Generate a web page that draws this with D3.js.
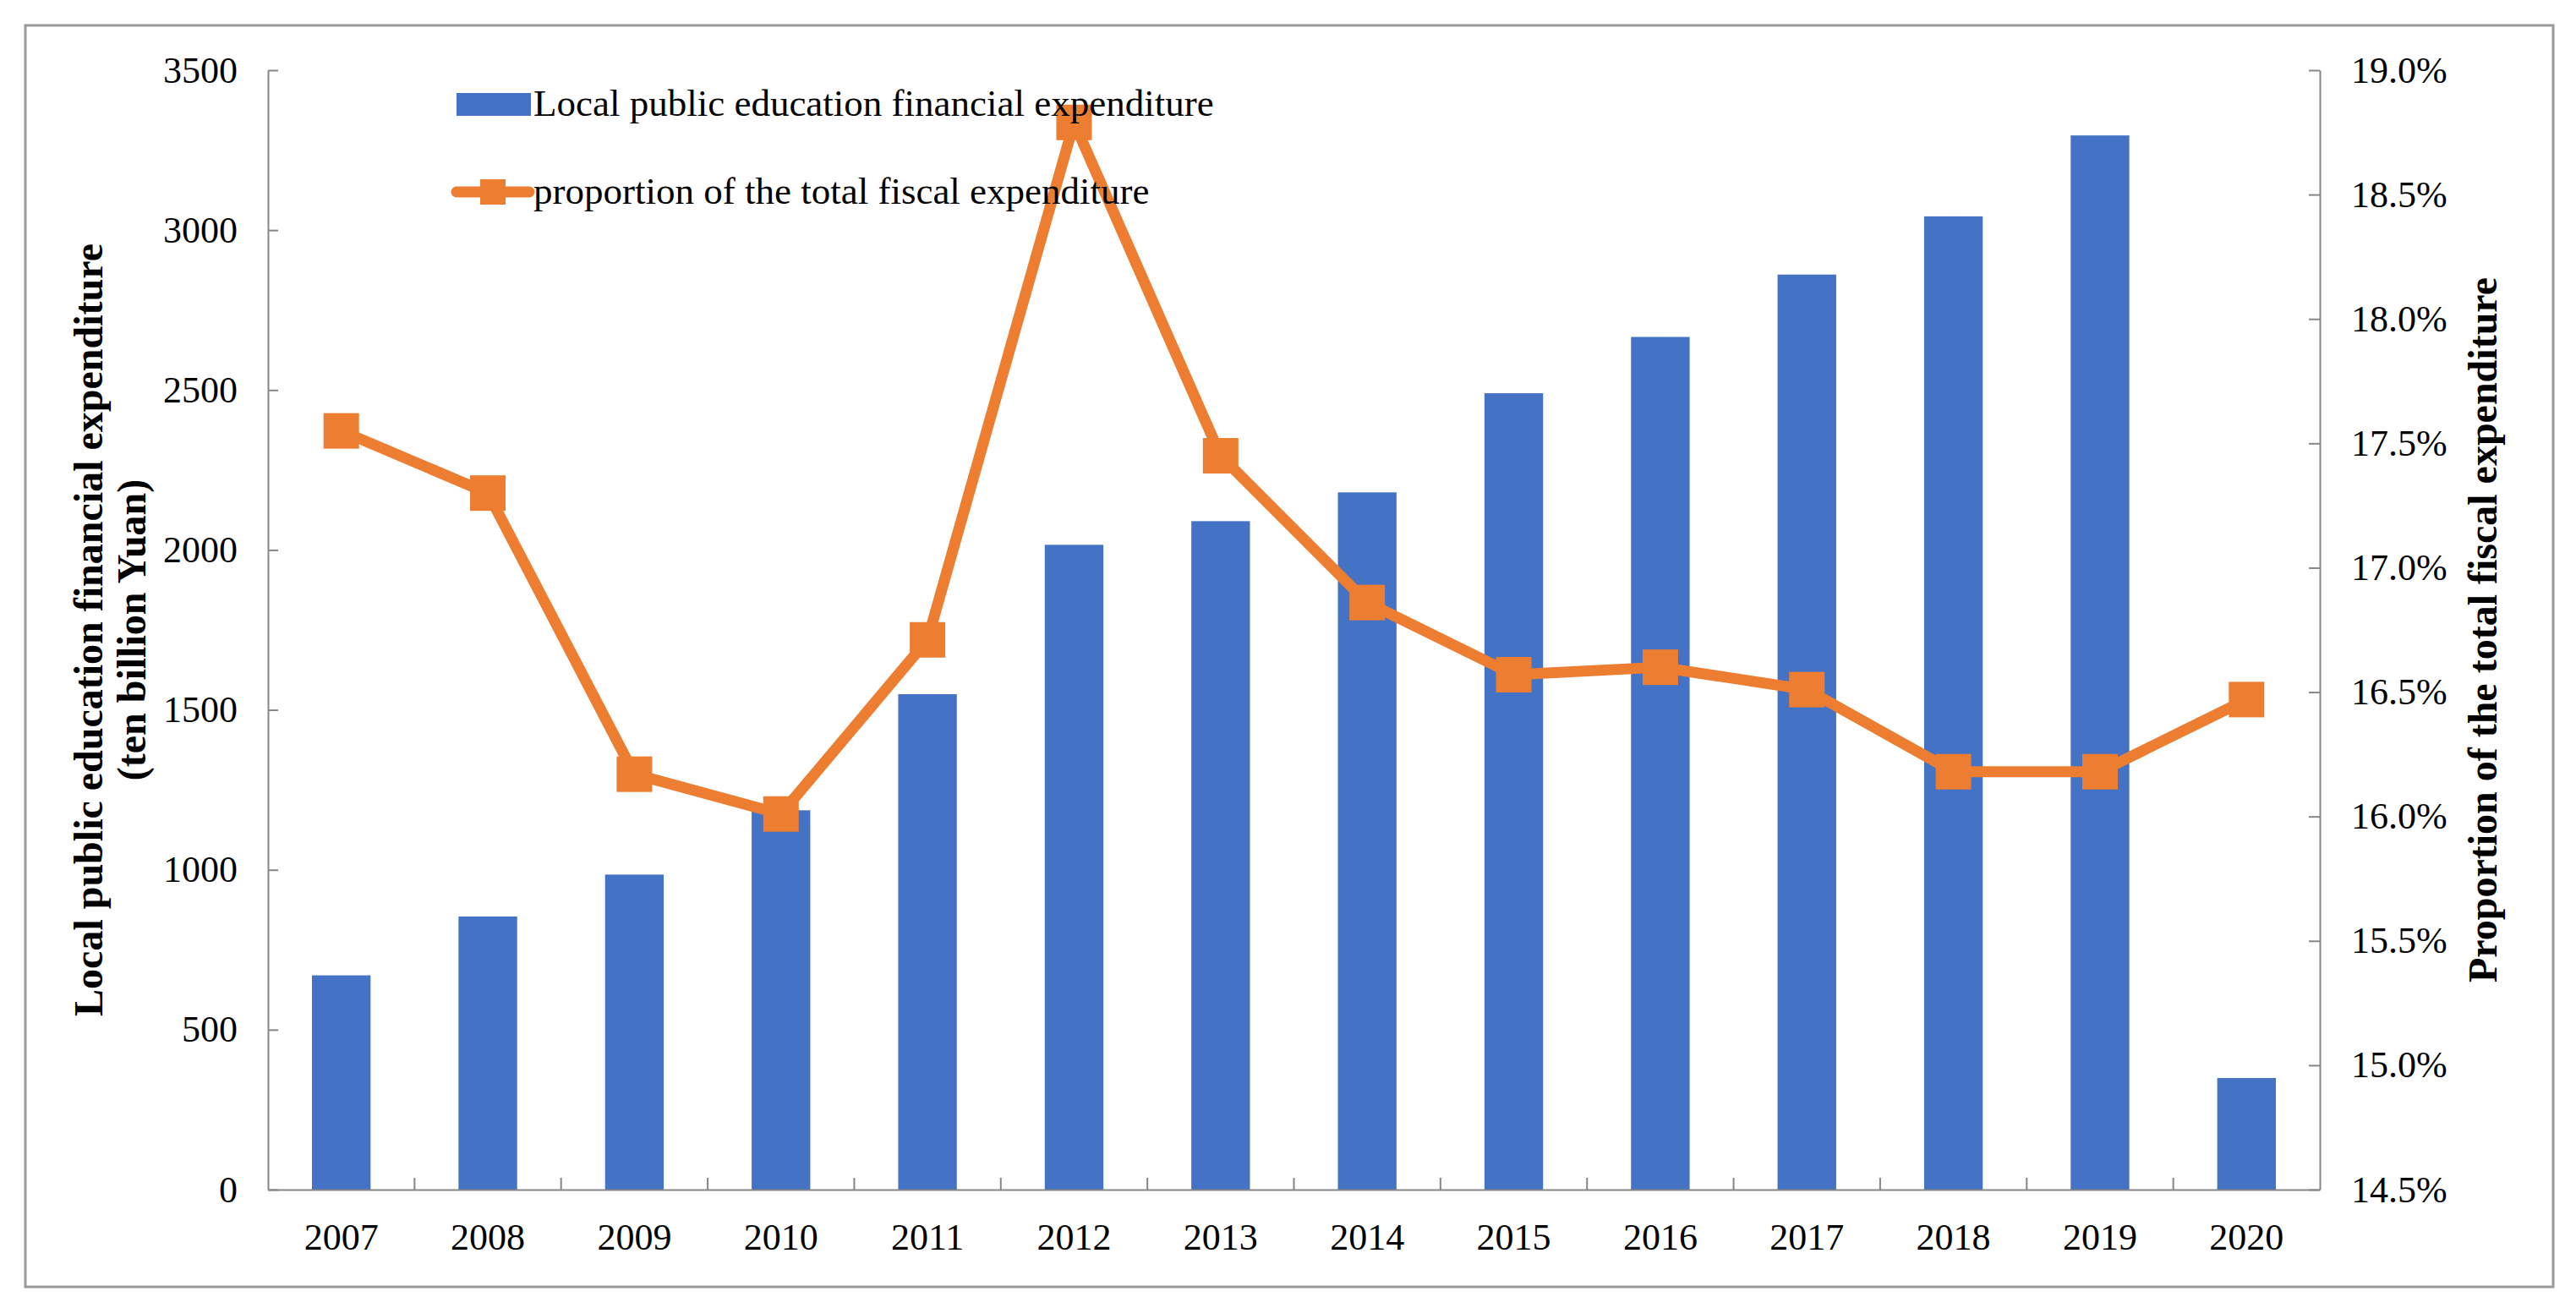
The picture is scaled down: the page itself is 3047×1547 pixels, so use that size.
<!DOCTYPE html>
<html lang="en">
<head>
  <meta charset="utf-8">
  <title>Local public education financial expenditure</title>
  <script src="https://cdnjs.cloudflare.com/ajax/libs/d3/7.8.5/d3.min.js"></script>
  <style>
    body { margin: 0; background: #ffffff; }
    text { font-family: "Liberation Serif", "Times New Roman", serif; fill: #000; }
    .axis path, .axis line { stroke: #868686; stroke-width: 2; }
    .axis text { font-size: 44px; }
    .title { font-size: 48px; font-weight: bold; }
    .legend text { font-size: 45px; }
  </style>
</head>
<body>
  <div id="chart"></div>
  <script>
    // data
    var years = ["2007", "2008", "2009", "2010", "2011", "2012", "2013",
                 "2014", "2015", "2016", "2017", "2018", "2019", "2020"];
    var expenditure = [670, 854, 985, 1186, 1549, 2016, 2090,
                       2180, 2490, 2666, 2861, 3043, 3296, 349];
    var proportion = [17.55, 17.30, 16.17, 16.01, 16.71, 18.79, 17.45,
                      16.86, 16.57, 16.60, 16.51, 16.18, 16.18, 16.47];
    var leftTicks = [0, 500, 1000, 1500, 2000, 2500, 3000, 3500];
    var rightTicks = [14.5, 15.0, 15.5, 16.0, 16.5, 17.0, 17.5, 18.0, 18.5, 19.0];

    var W = 3047, H = 1547;
    var pLeft = 317, pRight = 2744, pTop = 83, pBottom = 1407;
    var blue = "#4472C4", orange = "#ED7D31";

    var svg = d3.select("#chart").append("svg")
      .attr("width", W)
      .attr("height", H);

    // outer frame
    svg.append("rect")
      .attr("x", 30).attr("y", 30)
      .attr("width", 2990).attr("height", 1492)
      .attr("fill", "#fff")
      .attr("stroke", "#9a9a9a")
      .attr("stroke-width", 3);

    // scales
    var x = d3.scaleBand().domain(years).range([pLeft, pRight]).paddingInner(0).paddingOuter(0);
    var yL = d3.scaleLinear().domain([0, 3500]).range([pBottom, pTop]);
    var yR = d3.scaleLinear().domain([14.5, 19.0]).range([pBottom, pTop]);
    var barW = x.bandwidth() / 2.5;   // gap width 150%

    // bars
    svg.append("g").selectAll("rect")
      .data(expenditure)
      .enter().append("rect")
      .attr("x", function (d, i) { return x(years[i]) + (x.bandwidth() - barW) / 2; })
      .attr("y", function (d) { return yL(d); })
      .attr("width", barW)
      .attr("height", function (d) { return yL(0) - yL(d); })
      .attr("fill", blue);

    // axes
    svg.append("g")
      .attr("class", "axis")
      .attr("transform", "translate(" + pLeft + ",0)")
      .call(d3.axisLeft(yL).tickValues(leftTicks).tickSizeInner(-12).tickSizeOuter(0).tickPadding(36)
        .tickFormat(d3.format("d")));

    svg.append("g")
      .attr("class", "axis")
      .attr("transform", "translate(" + pRight + ",0)")
      .call(d3.axisRight(yR).tickValues(rightTicks).tickSizeInner(-13).tickSizeOuter(0).tickPadding(37)
        .tickFormat(function (d) { return d.toFixed(1) + "%"; }));

    var xAxis = svg.append("g")
      .attr("class", "axis")
      .attr("transform", "translate(0," + pBottom + ")")
      .call(d3.axisBottom(x).tickSize(0).tickPadding(40));

    // category separators, pointing up into the plot
    xAxis.selectAll("line.sep")
      .data(years.slice(1))
      .enter().append("line")
      .attr("class", "sep")
      .attr("x1", function (d) { return x(d); })
      .attr("x2", function (d) { return x(d); })
      .attr("y1", 0).attr("y2", -14);

    // line series
    var line = d3.line()
      .x(function (d, i) { return x(years[i]) + x.bandwidth() / 2; })
      .y(function (d) { return yR(d); });

    svg.append("path")
      .datum(proportion)
      .attr("d", line)
      .attr("fill", "none")
      .attr("stroke", orange)
      .attr("stroke-width", 13)
      .attr("stroke-linejoin", "round");

    var m = 42;
    svg.append("g").selectAll("rect")
      .data(proportion)
      .enter().append("rect")
      .attr("x", function (d, i) { return x(years[i]) + x.bandwidth() / 2 - m / 2; })
      .attr("y", function (d) { return yR(d) - m / 2; })
      .attr("width", m).attr("height", m)
      .attr("fill", orange);

    // axis titles
    var lt = svg.append("text")
      .attr("class", "title")
      .attr("text-anchor", "middle")
      .attr("transform", "translate(104," + (pTop + pBottom) / 2 + ") rotate(-90)");
    lt.append("tspan").attr("x", 0).attr("dy", "0.35em").text("Local public education financial expenditure");
    lt.append("tspan").attr("x", 0).attr("dy", 51).text("(ten billion Yuan)");

    svg.append("text")
      .attr("class", "title")
      .attr("text-anchor", "middle")
      .attr("transform", "translate(2936," + (pTop + pBottom) / 2 + ") rotate(-90)")
      .attr("dy", "0.35em")
      .text("Proportion of the total fiscal expenditure");

    // legend
    var lg = svg.append("g").attr("class", "legend");
    lg.append("rect")
      .attr("x", 540).attr("y", 110)
      .attr("width", 88).attr("height", 27)
      .attr("fill", blue);
    lg.append("text").attr("x", 631).attr("y", 137)
      .text("Local public education financial expenditure");

    lg.append("line")
      .attr("x1", 540).attr("x2", 626)
      .attr("y1", 227).attr("y2", 227)
      .attr("stroke", orange).attr("stroke-width", 13)
      .attr("stroke-linecap", "round");
    lg.append("rect")
      .attr("x", 568).attr("y", 212)
      .attr("width", 30).attr("height", 30)
      .attr("fill", orange);
    lg.append("text").attr("x", 631).attr("y", 241)
      .text("proportion of the total fiscal expenditure");
  </script>
</body>
</html>
